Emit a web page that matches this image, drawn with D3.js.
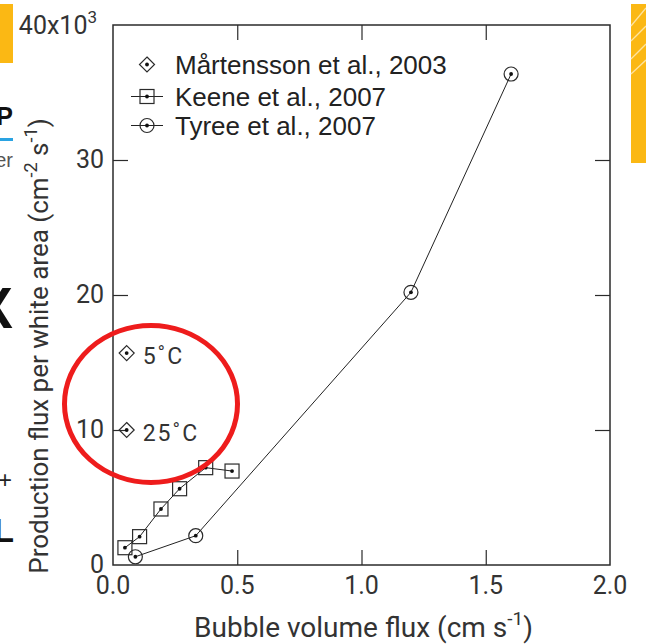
<!DOCTYPE html>
<html>
<head>
<meta charset="utf-8">
<script src="https://cdn.jsdelivr.net/npm/d3@7"></script>
<style>
  html, body { margin: 0; padding: 0; background: #fff; }
  svg { display: block; }
</style>
</head>
<body>
<svg id="chart" width="646" height="644"></svg>
<script>
// Mårtensson et al., 2003 (two water temperatures)
const martenssonX = [0.055, 0.055];
const martenssonY = [15.7, 10.0];
const martenssonLabels = ["5˚C", "25˚C"];

// Keene et al., 2007
const keeneX = [0.048, 0.107, 0.193, 0.268, 0.373, 0.479];
const keeneY = [1.28, 2.10, 4.15, 5.65, 7.21, 6.96];

// Tyree et al., 2007
const tyreeX = [0.090, 0.333, 1.199, 1.602];
const tyreeY = [0.61, 2.17, 20.2, 36.37];

const xTicks = [0, 0.5, 1.0, 1.5, 2.0];
const yTicks = [0, 10, 20, 30, 40];
const xTickLabels = ["0.0", "0.5", "1.0", "1.5", "2.0"];

const legendNames = ["Mårtensson et al., 2003", "Keene et al., 2007", "Tyree et al., 2007"];

const svg = d3.select("#chart");
const plot = { left: 113, right: 610, top: 25, bottom: 565 };

const x = d3.scaleLinear().domain([0, 2]).range([plot.left, plot.right]);
const y = d3.scaleLinear().domain([0, 40]).range([plot.bottom, plot.top]);

const ink = "#2b2b2b";
const tickFont = "Roboto, 'Liberation Sans', sans-serif";
const legendFont = "'Liberation Sans', Arial, sans-serif";

// ---- slide fragments around the figure ----
const deco = svg.append("g");
deco.append("rect").attr("x", 0).attr("y", 4).attr("width", 13).attr("height", 59).attr("fill", "#fbb814");
deco.append("text").attr("x", 13).attr("y", 125).attr("text-anchor", "end")
  .attr("font-family", legendFont).attr("font-weight", 700).attr("font-size", 25).attr("fill", "#111").text("P");
deco.append("rect").attr("x", 0).attr("y", 138).attr("width", 13).attr("height", 3).attr("fill", "#2aa3e2");
deco.append("text").attr("x", 13).attr("y", 167).attr("text-anchor", "end")
  .attr("font-family", legendFont).attr("font-size", 20).attr("fill", "#555").text("er");
deco.append("text").attr("x", 13).attr("y", 328).attr("text-anchor", "end")
  .attr("font-family", legendFont).attr("font-weight", 700).attr("font-size", 58).attr("fill", "#111").text("X");
deco.append("text").attr("x", 12).attr("y", 488).attr("text-anchor", "end")
  .attr("font-family", legendFont).attr("font-size", 24).attr("fill", "#222").text("+");
deco.append("text").attr("x", 14).attr("y", 542).attr("text-anchor", "end")
  .attr("font-family", legendFont).attr("font-weight", 700).attr("font-size", 34).attr("fill", "#111").text("L");
deco.append("rect").attr("x", 631).attr("y", 4).attr("width", 15).attr("height", 159).attr("fill", "#fbb814");
[[8, 26], [26, 41], [44, 59], [60, 74]].forEach(([y0, y1]) => {
  deco.append("line").attr("x1", 631).attr("y1", y1).attr("x2", 646).attr("y2", y0)
    .attr("stroke", "#fde3a0").attr("stroke-width", 1.3);
});

// ---- frame and inward ticks ----
const axes = svg.append("g");
axes.append("rect")
  .attr("x", plot.left).attr("y", plot.top)
  .attr("width", plot.right - plot.left).attr("height", plot.bottom - plot.top)
  .attr("fill", "none").attr("stroke", ink).attr("stroke-width", 1.5);

const tickLen = 15;
const innerX = xTicks.filter(v => v > 0 && v < 2);
const innerY = yTicks.filter(v => v > 0 && v < 40);

axes.append("g").attr("transform", `translate(0,${plot.bottom})`)
  .call(d3.axisBottom(x).tickValues(innerX).tickSize(-tickLen).tickFormat(""))
  .call(g => g.select(".domain").remove());
axes.append("g").attr("transform", `translate(0,${plot.top})`)
  .call(d3.axisTop(x).tickValues(innerX).tickSize(-tickLen).tickFormat(""))
  .call(g => g.select(".domain").remove());
axes.append("g").attr("transform", `translate(${plot.left},0)`)
  .call(d3.axisLeft(y).tickValues(innerY).tickSize(-tickLen).tickFormat(""))
  .call(g => g.select(".domain").remove());
axes.append("g").attr("transform", `translate(${plot.right},0)`)
  .call(d3.axisRight(y).tickValues(innerY).tickSize(-tickLen).tickFormat(""))
  .call(g => g.select(".domain").remove());
axes.selectAll(".tick line").attr("stroke", ink).attr("stroke-width", 1.2);

// tick labels
const xLab = svg.append("g").attr("font-family", tickFont).attr("font-size", 25).attr("fill", "#333");
xLab.selectAll("text").data(xTicks).join("text")
  .attr("x", d => x(d)).attr("y", plot.bottom + 29)
  .attr("text-anchor", "middle")
  .text((d, i) => xTickLabels[i]);

const yLab = svg.append("g").attr("font-family", tickFont).attr("font-size", 25).attr("fill", "#333");
yLab.selectAll("text").data(yTicks.filter(v => v < 40)).join("text")
  .attr("x", plot.left - 9).attr("y", d => y(d) + 8)
  .attr("text-anchor", "end")
  .text(d => d);
const topLab = yLab.append("text")
  .attr("x", plot.left - 16).attr("y", y(40) + 8.5)
  .attr("text-anchor", "end");
topLab.append("tspan").text("40x10");
topLab.append("tspan").attr("dy", -11).attr("font-size", 17).text("3");

// axis titles
const xTitle = svg.append("text")
  .attr("x", (plot.left + plot.right) / 2 + 2).attr("y", 637)
  .attr("text-anchor", "middle")
  .attr("font-family", tickFont).attr("font-size", 28).attr("fill", "#333");
xTitle.append("tspan").text("Bubble volume flux (cm s");
xTitle.append("tspan").attr("dy", -12).attr("font-size", 19).text("-1");
xTitle.append("tspan").attr("dy", 12).text(")");

const yTitle = svg.append("text")
  .attr("transform", "translate(48,346) rotate(-90)")
  .attr("text-anchor", "middle")
  .attr("font-family", tickFont).attr("font-size", 26).attr("fill", "#333");
yTitle.append("tspan").text("Production flux per white area (cm");
yTitle.append("tspan").attr("dy", -11).attr("font-size", 18).text("-2");
yTitle.append("tspan").attr("dy", 11).text(" s");
yTitle.append("tspan").attr("dy", -11).attr("font-size", 18).text("-1");
yTitle.append("tspan").attr("dy", 11).text(")");

// ---- marker shapes ----
const markStroke = "#2b2b2b";
function drawMarker(g, kind, cx, cy) {
  if (kind === "diamond") {
    const s = 7.5;
    g.append("path").attr("d", `M${cx},${cy - s}L${cx + s},${cy}L${cx},${cy + s}L${cx - s},${cy}Z`)
      .attr("fill", "none").attr("stroke", markStroke).attr("stroke-width", 1.2);
  } else if (kind === "square") {
    const s = 7;
    g.append("rect").attr("x", cx - s).attr("y", cy - s).attr("width", 2 * s).attr("height", 2 * s)
      .attr("fill", "none").attr("stroke", markStroke).attr("stroke-width", 1.2);
  } else {
    g.append("circle").attr("cx", cx).attr("cy", cy).attr("r", 7)
      .attr("fill", "none").attr("stroke", markStroke).attr("stroke-width", 1.2);
  }
  g.append("circle").attr("cx", cx).attr("cy", cy).attr("r", 1.9).attr("fill", "#111");
}

const line = d3.line().x(d => x(d[0])).y(d => y(d[1]));
const data = svg.append("g");

// Keene series
const keene = keeneX.map((v, i) => [v, keeneY[i]]);
data.append("path").attr("d", line(keene)).attr("fill", "none").attr("stroke", "#222").attr("stroke-width", 1);
keene.forEach(d => drawMarker(data, "square", x(d[0]), y(d[1])));

// Tyree series
const tyree = tyreeX.map((v, i) => [v, tyreeY[i]]);
data.append("path").attr("d", line(tyree)).attr("fill", "none").attr("stroke", "#222").attr("stroke-width", 1);
tyree.forEach(d => drawMarker(data, "circle", x(d[0]), y(d[1])));

// Mårtensson points with temperature labels
martenssonX.forEach((v, i) => {
  const cx = x(v), cy = y(martenssonY[i]);
  drawMarker(data, "diamond", cx, cy);
  data.append("text").attr("x", cx + 16).attr("y", cy + 11)
    .attr("font-family", tickFont).attr("font-size", 23).attr("letter-spacing", 2).attr("fill", "#333")
    .text(martenssonLabels[i]);
});

// ---- legend ----
const legend = svg.append("g");
const legendKinds = ["diamond", "square", "circle"];
const legendRows = [64.5, 96.5, 125.5];
legendNames.forEach((name, i) => {
  const cy = legendRows[i];
  if (legendKinds[i] !== "diamond") {
    legend.append("line").attr("x1", 131).attr("x2", 163).attr("y1", cy).attr("y2", cy)
      .attr("stroke", "#222").attr("stroke-width", 1);
  }
  drawMarker(legend, legendKinds[i], 147, cy);
  legend.append("text").attr("x", 175).attr("y", cy + 9)
    .attr("font-family", legendFont).attr("font-size", 26).attr("fill", "#222")
    .text(name);
});

// ---- red highlight ellipse ----
svg.append("ellipse")
  .attr("cx", 151).attr("cy", 404).attr("rx", 86.5).attr("ry", 78.5)
  .attr("fill", "none").attr("stroke", "#ee1c1c").attr("stroke-width", 5);
</script>
</body>
</html>
